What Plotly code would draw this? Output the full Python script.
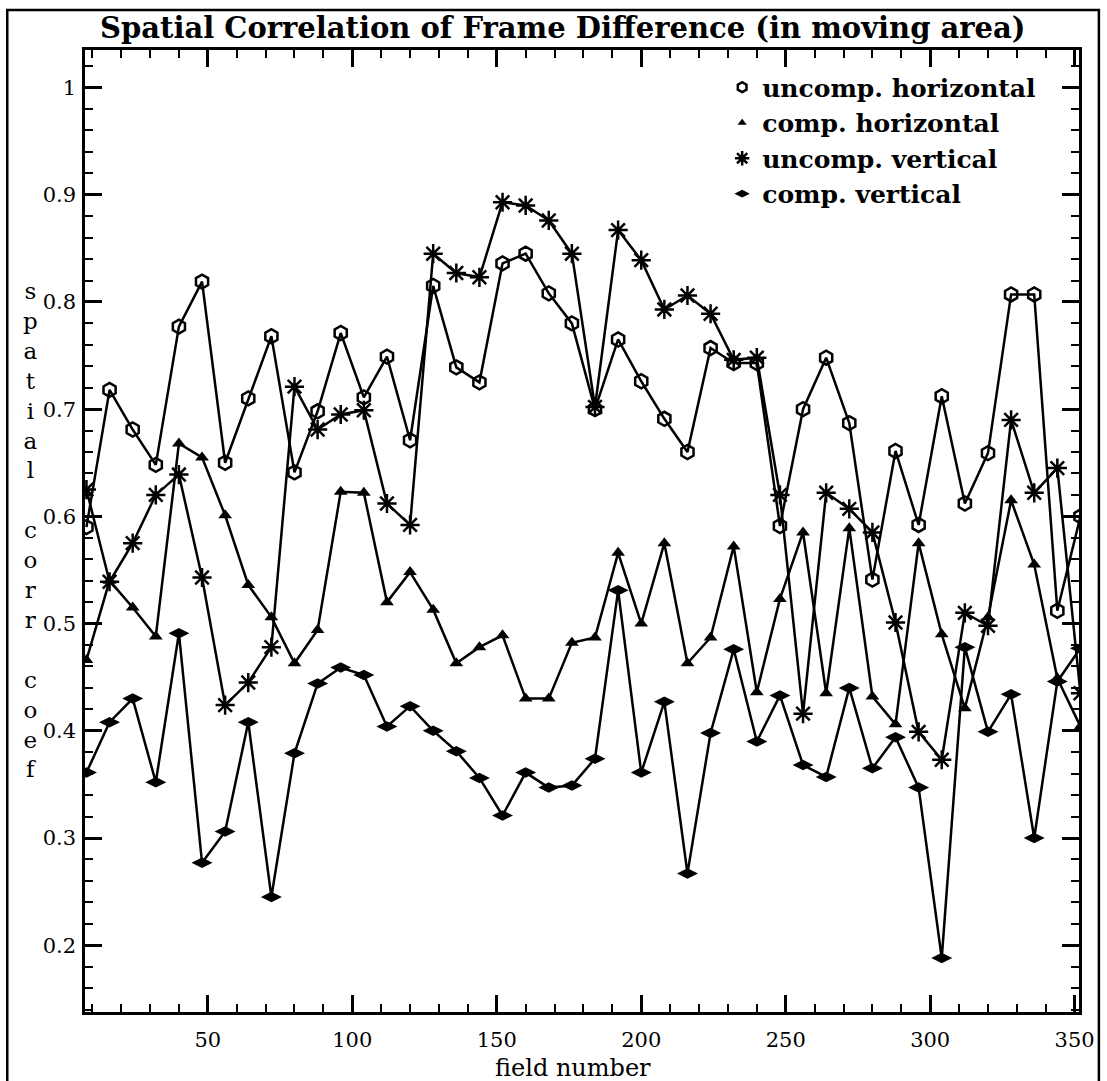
import plotly.graph_objects as go

field = [8, 16, 24, 32, 40, 48, 56, 64, 72, 80, 88, 96, 104, 112, 120, 128, 136, 144,
         152, 160, 168, 176, 184, 192, 200, 208, 216, 224, 232, 240, 248, 256, 264,
         272, 280, 288, 296, 304, 312, 320, 328, 336, 344, 352]

uncomp_h = [0.590, 0.718, 0.681, 0.648, 0.777, 0.819, 0.650, 0.710, 0.768, 0.641,
            0.698, 0.771, 0.711, 0.749, 0.671, 0.815, 0.739, 0.725, 0.836, 0.845,
            0.808, 0.780, 0.700, 0.765, 0.726, 0.691, 0.660, 0.757, 0.743, 0.743,
            0.591, 0.700, 0.748, 0.687, 0.541, 0.661, 0.592, 0.712, 0.612, 0.659,
            0.807, 0.807, 0.512, 0.600]

comp_h = [0.466, 0.540, 0.515, 0.488, 0.668, 0.655, 0.601, 0.536, 0.506, 0.463,
          0.494, 0.623, 0.622, 0.520, 0.548, 0.513, 0.463, 0.478, 0.489, 0.430,
          0.430, 0.482, 0.487, 0.566, 0.500, 0.575, 0.463, 0.487, 0.572, 0.436,
          0.523, 0.585, 0.435, 0.589, 0.432, 0.406, 0.575, 0.490, 0.421, 0.506,
          0.615, 0.555, 0.449, 0.404]

uncomp_v = [0.625, 0.539, 0.575, 0.620, 0.639, 0.543, 0.424, 0.445, 0.478, 0.721,
            0.681, 0.695, 0.699, 0.612, 0.592, 0.845, 0.827, 0.823, 0.893, 0.890,
            0.876, 0.845, 0.702, 0.867, 0.839, 0.793, 0.806, 0.789, 0.746, 0.748,
            0.620, 0.416, 0.622, 0.607, 0.585, 0.501, 0.399, 0.373, 0.510, 0.498,
            0.690, 0.622, 0.645, 0.435]

comp_v = [0.361, 0.408, 0.430, 0.352, 0.491, 0.277, 0.306, 0.408, 0.245, 0.379,
          0.444, 0.459, 0.452, 0.404, 0.423, 0.400, 0.381, 0.356, 0.321, 0.361,
          0.347, 0.349, 0.374, 0.531, 0.361, 0.427, 0.267, 0.398, 0.476, 0.390,
          0.433, 0.368, 0.357, 0.440, 0.365, 0.394, 0.347, 0.188, 0.478, 0.399,
          0.434, 0.300, 0.446, 0.477]

names = ["uncomp. horizontal", "comp. horizontal", "uncomp. vertical", "comp. vertical"]
y_tick_vals = [0.2, 0.3, 0.4, 0.5, 0.6, 0.7, 0.8, 0.9, 1.0]
y_tick_text = ["0.2", "0.3", "0.4", "0.5", "0.6", "0.7", "0.8", "0.9", "1"]
x_tick_vals = [50, 100, 150, 200, 250, 300, 350]

FONT = "DejaVu Serif"
series = [
    (uncomp_h, dict(symbol="hexagon-open", size=14, line=dict(width=2.5, color="black"))),
    (comp_h, dict(symbol="triangle-up", size=12)),
    (uncomp_v, dict(symbol="asterisk-open", size=16, line=dict(width=2.5, color="black"))),
    (comp_v, dict(symbol="diamond-wide", size=15)),
]
legend_markers = [
    dict(symbol="hexagon-open", size=10, line=dict(width=2.5, color="black")),
    dict(symbol="triangle-up", size=8),
    dict(symbol="asterisk-open", size=12, line=dict(width=2.5, color="black")),
    dict(symbol="diamond-wide", size=11),
]

fig = go.Figure()
for (vals, mk), nm in zip(series, names):
    fig.add_trace(go.Scatter(x=field, y=vals, mode="lines+markers", name=nm,
                             line=dict(color="black", width=2.5),
                             marker=dict(color="black", **mk),
                             showlegend=False))
for mk, nm in zip(legend_markers, names):
    fig.add_trace(go.Scatter(x=[None], y=[None], mode="markers", name=nm,
                             marker=dict(color="black", **mk),
                             showlegend=True))

axis_common = dict(showline=True, linecolor="black", linewidth=2.5, mirror="ticks",
                   ticks="inside", tickcolor="black", tickwidth=2.5, showgrid=False,
                   zeroline=False, tickfont=dict(family=FONT, size=21, color="black"))

fig.update_xaxes(range=[7.5, 351.5], tickvals=x_tick_vals, ticklen=17, ticklabelstandoff=7,
                 minor=dict(dtick=10, tick0=0, ticklen=8, ticks="inside", tickcolor="black", tickwidth=2),
                 **axis_common)
fig.update_yaxes(range=[0.1377, 1.035], tickvals=y_tick_vals, ticktext=y_tick_text, ticklen=17,
                 ticklabelstandoff=2,
                 minor=dict(dtick=0.02, tick0=0, ticklen=8, ticks="inside", tickcolor="black", tickwidth=2),
                 **axis_common)

fig.update_layout(
    width=1107, height=1081,
    margin=dict(l=85, r=25, t=50, b=69),
    paper_bgcolor="white", plot_bgcolor="white",
    font=dict(family=FONT, color="black"),
    legend=dict(x=0.641, y=0.985, xanchor="left", yanchor="top",
                bgcolor="rgba(0,0,0,0)", borderwidth=0,
                font=dict(family=FONT, size=25, color="black", weight="bold"),
                tracegroupgap=0, itemwidth=30),
    shapes=[dict(type="rect", xref="paper", yref="paper",
                 x0=-0.0782, x1=1.020, y0=-0.09, y1=1.0416,
                 line=dict(color="black", width=2.5))],
    annotations=[
        dict(text="<b>Spatial Correlation of Frame Difference (in moving area)</b>",
             xref="paper", yref="paper", x=0.481, y=1.0229, xanchor="center", yanchor="middle",
             showarrow=False, font=dict(family=FONT, size=29, color="black")),
        dict(text="field number", xref="paper", yref="paper", x=0.491, y=-0.058,
             xanchor="center", yanchor="middle", showarrow=False,
             font=dict(family=FONT, size=24, color="black")),
        dict(text="s<br>p<br>a<br>t<br>i<br>a<br>l<br> <br>c<br>o<br>r<br>r<br> <br>c<br>o<br>e<br>f",
             xref="paper", yref="paper", x=(30 - 85) / 997, y=(1012 - 530) / 962,
             xanchor="center", yanchor="middle", showarrow=False, align="center",
             font=dict(family=FONT, size=23, color="black")),
    ],
)

fig.write_html("out.html")
